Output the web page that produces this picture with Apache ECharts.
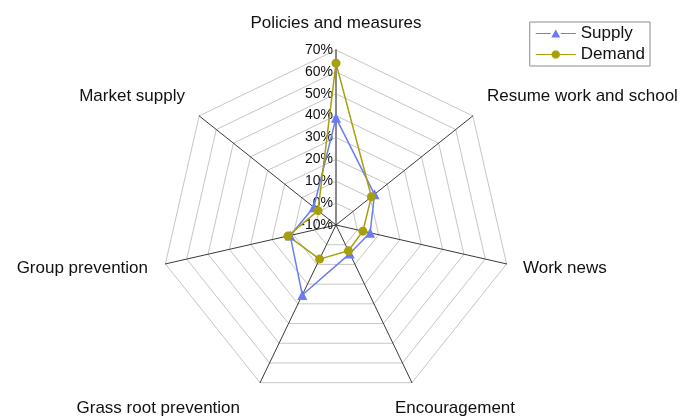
<!DOCTYPE html>
<html>
<head>
<meta charset="utf-8">
<style>html,body{margin:0;padding:0;background:#fff;}#c{width:681px;height:418px;}</style>
<script src="https://cdn.jsdelivr.net/npm/echarts@6/dist/echarts.min.js"></script>
</head>
<body>
<div id="c"></div>
<script>
// Data (clockwise from top)
const categories = ['Policies and measures', 'Resume work and school', 'Work news', 'Encouragement', 'Grass root prevention', 'Group prevention', 'Market supply'];
const supplyValues = [39, 12.5, 6, 4.5, 25.5, 11.5, 3];
const demandValues = [64, 10.7, 2.6, 3.1, 7.3, 12.5, 0.5];
const seriesNames = ['Supply', 'Demand'];
const axisMin = -10, axisMax = 70;

// ECharts places indicators counter-clockwise; reorder so they read clockwise
const order = [0].concat(categories.slice(1).map((_, i) => categories.length - 1 - i));
const pick = arr => order.map(i => arr[i]);

const FONT = 'Liberation Sans, Arial, sans-serif';
const SUPPLY_COLOR = '#6b7cf2';
const DEMAND_COLOR = '#a89f0c';

const indicators = pick(categories).map((name, k) => {
  const ind = { name: name, min: axisMin, max: axisMax };
  if (k === 0) {
    ind.axisLabel = { show: true };
    ind.axisLine = { lineStyle: { color: '#8a8a8a', width: 2 } };
  }
  return ind;
});

// name label placement (text boxes), separate from data
const namePos = {
  'Policies and measures': { x: 336, y: 23, align: 'center' },
  'Resume work and school': { x: 487, y: 96, align: 'left' },
  'Work news': { x: 523, y: 268, align: 'left' },
  'Encouragement': { x: 395, y: 408, align: 'left' },
  'Grass root prevention': { x: 240, y: 408, align: 'right' },
  'Group prevention': { x: 148, y: 268, align: 'right' },
  'Market supply': { x: 185, y: 96, align: 'right' }
};

// legend icons: line with marker in the middle
const triIcon = 'path://M0,5.4 L15,5.4 L15,6.6 L0,6.6 Z M25,5.4 L40,5.4 L40,6.6 L25,6.6 Z M15.5,10 L20,2 L24.5,10 Z';
const dotIcon = 'path://M0,5.4 L16,5.4 L16,6.6 L0,6.6 Z M24,5.4 L40,5.4 L40,6.6 L24,6.6 Z M18.3,2 L21.7,2 L24,4.3 L24,7.7 L21.7,10 L18.3,10 L16,7.7 L16,4.3 Z';

const chart = echarts.init(document.getElementById('c'), null, { renderer: 'canvas' });
chart.setOption({
  backgroundColor: '#ffffff',
  animation: false,
  textStyle: { fontFamily: FONT },
  legend: {
    data: [
      { name: seriesNames[0], icon: triIcon },
      { name: seriesNames[1], icon: dotIcon }
    ],
    orient: 'vertical',
    right: 31,
    top: 22,
    itemWidth: 40,
    itemHeight: 12,
    itemGap: 4,
    padding: [3, 5, 3, 6],
    borderColor: '#8c8c8c',
    borderWidth: 1,
    borderRadius: 0,
    textStyle: { fontSize: 17, color: '#111', fontFamily: FONT }
  },
  radar: {
    center: [336, 225],
    radius: 175,
    startAngle: 90,
    shape: 'polygon',
    splitNumber: 8,
    indicator: indicators,
    axisName: { show: false },
    axisLine: { show: true, lineStyle: { color: '#3a3a3a', width: 1 } },
    splitLine: { show: true, lineStyle: { color: '#c6c6c6', width: 1 } },
    splitArea: { show: false },
    axisTick: { show: false },
    axisLabel: {
      show: false,
      fontSize: 14,
      color: '#111',
      margin: 3,
      fontFamily: FONT,
      formatter: v => v + '%'
    }
  },
  graphic: categories.map(name => ({
    type: 'text',
    x: namePos[name].x,
    y: namePos[name].y,
    style: {
      text: name,
      fontSize: 17,
      fontFamily: FONT,
      fill: '#111',
      align: namePos[name].align,
      verticalAlign: 'middle'
    }
  })),
  series: [{
    type: 'radar',
    data: [
      {
        name: seriesNames[0],
        value: pick(supplyValues),
        symbol: 'triangle',
        symbolSize: 10,
        lineStyle: { color: SUPPLY_COLOR, width: 1.5 },
        itemStyle: { color: SUPPLY_COLOR }
      },
      {
        name: seriesNames[1],
        value: pick(demandValues),
        symbol: 'circle',
        symbolSize: 9,
        lineStyle: { color: DEMAND_COLOR, width: 1.5 },
        itemStyle: { color: DEMAND_COLOR }
      }
    ]
  }]
});
</script>
</body>
</html>
